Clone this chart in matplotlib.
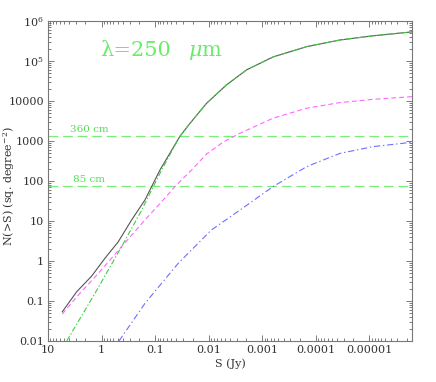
import numpy as np
import matplotlib
matplotlib.use("Agg")
import matplotlib.pyplot as plt
from matplotlib.ticker import LogLocator, FixedLocator, FixedFormatter, NullFormatter

# ---- data ----
total_S = [5.41, 2.92, 1.53, 0.865, 0.49, 0.275, 0.155, 0.0813, 0.0347,
           0.0224, 0.011, 0.00468, 0.00195, 0.00063, 0.000148, 3.55e-5, 8.5e-6, 1.55e-6]
total_N = [0.0537, 0.17, 0.42, 1.17, 3.0, 10.6, 33.5, 188, 1290,
           2750, 8710, 25100, 60300, 126000, 229000, 335000, 427000, 537000]

mag_S = [5.41, 2.72, 1.15, 0.422, 0.155, 0.0708, 0.0427, 0.0209, 0.011, 0.0054, 0.00263,
         0.00063, 0.000148, 3.55e-5, 8.5e-6, 1.55e-6]
mag_N = [0.0473, 0.141, 0.49, 2.29, 10.6, 33.5, 72.4, 188, 470, 933, 1550,
         3720, 6610, 9120, 11000, 12900]

grn_S = [4.47, 1.33, 0.422, 0.178, 0.0759]
grn_N = [0.01, 0.155, 2.29, 18.8, 188]

blu_S = [0.473, 0.155, 0.0372, 0.00891, 0.00211, 0.00063, 0.000148, 3.55e-5, 8.5e-6, 1.55e-6]
blu_N = [0.01, 0.087, 0.871, 5.96, 22.9, 72.4, 229, 490, 724, 933]

line_levels = [1330, 75]
line_labels = ["360 cm", "85 cm"]

xticks = [10, 1, 0.1, 0.01, 0.001, 0.0001, 0.00001]
xticklabels = ["10", "1", "0.1", "0.01", "0.001", "0.0001", "0.00001"]
yticks = [0.01, 0.1, 1, 10, 100, 1000, 10000, 1e5, 1e6]
yticklabels = ["0.01", "0.1", "1", "10", "100", "1000", "10000", r"10$^{5}$", r"10$^{6}$"]

plt.rcParams['font.family'] = ['DejaVu Serif']
plt.rcParams['mathtext.fontset'] = 'dejavuserif'
plt.rcParams['lines.scale_dashes'] = False

fig = plt.figure(figsize=(4.36, 3.82), dpi=100)
ax = fig.add_axes([48/436, 1-341/382, 364/436, 320/382])

# the green component merges with the total at faint fluxes: it follows the total beyond its last point
g_S = grn_S + [s for s in total_S if s < grn_S[-1]]
g_N = grn_N + [n for s, n in zip(total_S, total_N) if s < grn_S[-1]]

ax.plot(total_S, total_N, color='#555555', lw=0.8, zorder=3)
ax.plot(g_S, g_N, color='#44cc44', lw=0.8, dashes=[4, 1.5, 1, 1.5], zorder=4)
ax.plot(mag_S, mag_N, color='#ff66ff', lw=0.8, dashes=[3.5, 2.2], zorder=3)
ax.plot(blu_S, blu_N, color='#6f6fff', lw=0.8, dashes=[4.5, 2, 1, 2], zorder=3)

for lev in line_levels:
    ax.axhline(lev, color='#77ee77', lw=0.9, dashes=[7, 3.5], zorder=2)
ax.text(3.89, 1680, line_labels[0], color='#55dd55', fontsize=7.5, ha='left', va='baseline')
ax.text(3.42, 94, line_labels[1], color='#55dd55', fontsize=7.5, ha='left', va='baseline')

ax.text(1.07, 1.35e5, "λ=250", color='#66ee66', fontsize=15, ha='left', va='baseline')
ax.text(0.0245, 1.35e5, r"$\mu$m", color='#66ee66', fontsize=15, ha='left', va='baseline')

ax.set_xscale('log')
ax.set_yscale('log')
ax.set_xlim(10, 1.6e-6)
ax.set_ylim(0.01, 1e6)

ax.xaxis.set_major_locator(FixedLocator(xticks))
ax.xaxis.set_major_formatter(FixedFormatter(xticklabels))
ax.yaxis.set_major_locator(FixedLocator(yticks))
ax.yaxis.set_major_formatter(FixedFormatter(yticklabels))
ax.xaxis.set_minor_locator(LogLocator(base=10, subs=np.arange(2, 10), numticks=20))
ax.yaxis.set_minor_locator(LogLocator(base=10, subs=np.arange(2, 10), numticks=20))
ax.xaxis.set_minor_formatter(NullFormatter())
ax.yaxis.set_minor_formatter(NullFormatter())

ax.tick_params(which='both', direction='in', top=True, right=True, colors='#666666',
               labelcolor='#333333', labelsize=8, width=0.6)
ax.tick_params(which='major', length=4.5)
ax.tick_params(which='minor', length=2.2)
ax.tick_params(axis='x', pad=3)
ax.tick_params(axis='y', pad=3)
for sp in ax.spines.values():
    sp.set_color('#777777')
    sp.set_linewidth(0.8)

ax.set_xlabel("S (Jy)", fontsize=8, color='#333333')
ax.xaxis.set_label_coords(0.5, -0.053)
ax.set_ylabel(r"N(>S) (sq. degree$^{-2}$)", fontsize=8, color='#333333', va='center')
ax.yaxis.set_label_coords(-0.108, 0.485)

fig.savefig("out.png", dpi=100)
